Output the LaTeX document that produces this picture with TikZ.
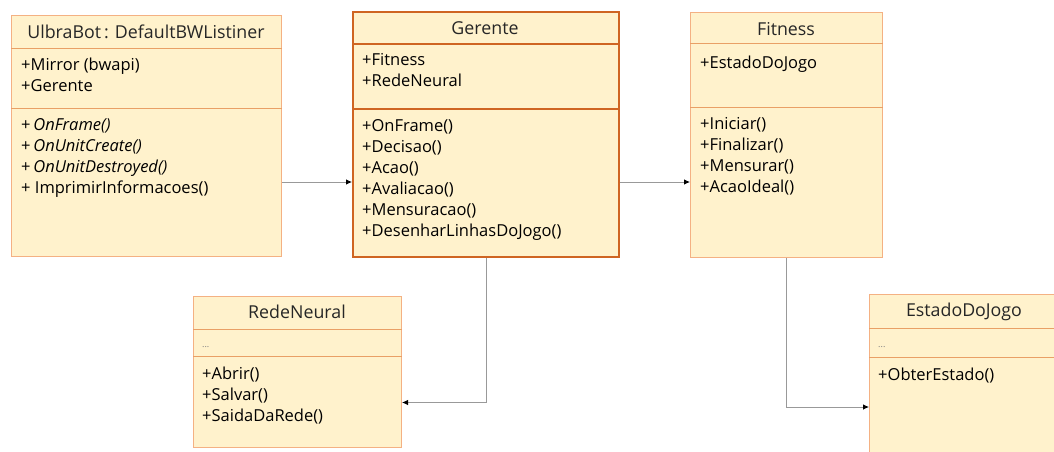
\documentclass[tikz,border=0pt]{standalone}
\usepackage{fontspec}
\setmainfont{Open Sans}
\usetikzlibrary{arrows.meta}

\definecolor{classfill}{HTML}{FFF2CC}
\definecolor{classline}{HTML}{F4B183}
\definecolor{sepline}{HTML}{E9A066}
\definecolor{mainline}{HTML}{CF6522}
\definecolor{titletext}{HTML}{262626}
\definecolor{linkgray}{HTML}{999999}

\tikzset{
    classbox/.style={draw=classline, fill=classfill, line width=1pt, anchor=north west, inner sep=0pt},
    mainbox/.style={classbox, draw=mainline, line width=2pt},
    classtitle/.style={text=titletext, inner sep=0pt, font=\fontsize{17.8}{20}\selectfont},
    members/.style={anchor=north west, align=left, inner sep=0pt, font=\fontsize{16.5}{21}\selectfont},
    dots/.style={anchor=west, inner sep=0pt, text=gray, font=\fontsize{9}{10}\selectfont},
    divider/.style={draw=sepline, line width=1pt},
    assoc/.style={draw=linkgray, line width=0.8pt, -{Latex[length=6pt, width=5.5pt, black]}}
}

\begin{document}
\begin{tikzpicture}[x=1pt, y=-1pt]
    \useasboundingbox (0,0) rectangle (1054,452);
    \clip (0,0) rectangle (1054,452);

    % classes
    \node[classbox, minimum width=270, minimum height=241] (ulbra) at (11,15) {};
    \node[mainbox, minimum width=266, minimum height=245] (gerente) at (352,11) {};
    \node[classbox, minimum width=192, minimum height=245] (fitness) at (690,12) {};
    \node[classbox, minimum width=208, minimum height=151] (rede) at (193,296) {};
    \node[classbox, minimum width=192, minimum height=180] (estado) at (869,294) {};

    \draw[divider] (ulbra.west |- 0,49) -- (ulbra.east |- 0,49);
    \draw[divider] (ulbra.west |- 0,108) -- (ulbra.east |- 0,108);
    \draw[divider, draw=mainline, line width=2pt] (gerente.west |- 0,44) -- (gerente.east |- 0,44);
    \draw[divider, draw=mainline, line width=2pt] (gerente.west |- 0,109) -- (gerente.east |- 0,109);
    \draw[divider] (fitness.west |- 0,44) -- (fitness.east |- 0,44);
    \draw[divider] (fitness.west |- 0,107) -- (fitness.east |- 0,107);
    \draw[divider] (rede.west |- 0,329) -- (rede.east |- 0,329);
    \draw[divider] (rede.west |- 0,356) -- (rede.east |- 0,356);
    \draw[divider] (estado.west |- 0,328) -- (estado.east |- 0,328);
    \draw[divider] (estado.west |- 0,357) -- (estado.east |- 0,357);

    % texts
    \node[classtitle] (ulbra-name) at (146,32) {UlbraBot\,: DefaultBWListiner};
    \node[members] (ulbra-attr) at (21,58) {+Mirror (bwapi)\\+Gerente};
    \node[members] (ulbra-ops) at (21,118) {+\,\textit{OnFrame()}\\+\,\textit{OnUnitCreate()}\\+\,\textit{OnUnitDestroyed()}\\+ ImprimirInformacoes()};

    \node[classtitle] (gerente-name) at (485,28) {Gerente};
    \node[members] (gerente-attr) at (362,53.5) {+Fitness\\+RedeNeural};
    \node[members] (gerente-ops) at (362,119) {+OnFrame()\\+Decisao()\\+Acao()\\+Avaliacao()\\+Mensuracao()\\+DesenharLinhasDoJogo()};

    \node[classtitle] (fitness-name) at (786,29) {Fitness};
    \node[members] (fitness-attr) at (700,55.5) {+EstadoDoJogo};
    \node[members] (fitness-ops) at (700,117.5) {+Iniciar()\\+Finalizar()\\+Mensurar()\\+AcaoIdeal()};

    \node[classtitle] (rede-name) at (297,312) {RedeNeural};
    \node[dots] (rede-attr) at (202,347) {...};
    \node[members] (rede-ops) at (202,366.5) {+Abrir()\\+Salvar()\\+SaidaDaRede()};

    \node[classtitle] (estado-name) at (964,312) {EstadoDoJogo};
    \node[dots] (estado-attr) at (878,347) {...};
    \node[members] (estado-ops) at (878,367.5) {+ObterEstado()};

    % links
    \coordinate (row) at (0,182);
    \draw[assoc] (ulbra.east |- row) -- (gerente.west |- row);
    \draw[assoc] (gerente.east |- row) -- (fitness.west |- row);
    \draw[assoc] (gerente.south) |- ([yshift=-30.5pt]rede.east);
    \draw[assoc] (fitness.south) |- (estado.west |- 0,407);
\end{tikzpicture}
\end{document}
